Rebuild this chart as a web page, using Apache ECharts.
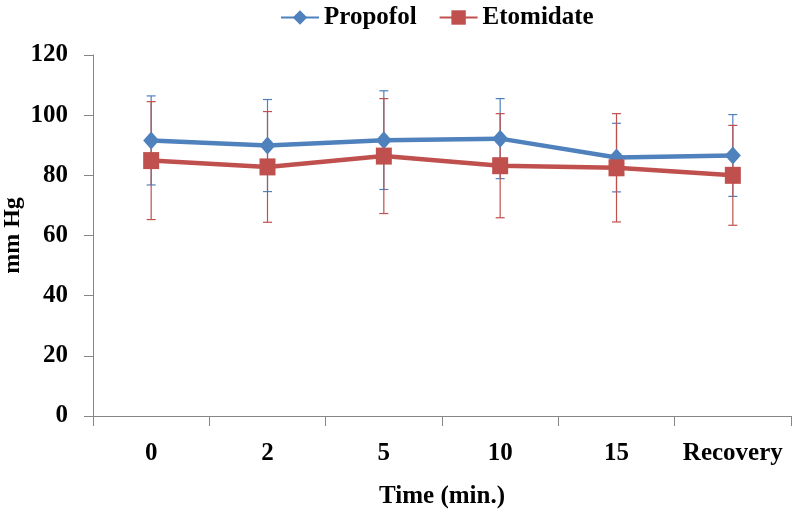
<!DOCTYPE html>
<html>
<head>
<meta charset="utf-8">
<script src="https://cdn.jsdelivr.net/npm/echarts@6/dist/echarts.min.js"></script>
<style>html,body{margin:0;padding:0;background:#fff;}#chart{width:792px;height:514px;}</style>
</head>
<body>
<div id="chart"></div>
<script>
const categories = ['0', '2', '5', '10', '15', 'Recovery'];
const propofolMean = [91.6, 89.9, 91.7, 92.2, 85.9, 86.6];
const propofolSD = [14.8, 15.3, 16.4, 13.3, 11.4, 13.6];
const etomidateMean = [84.9, 82.8, 86.4, 83.2, 82.5, 80.0];
const etomidateSD = [19.6, 18.4, 19.1, 17.3, 18.0, 16.6];
const yTicks = [0, 20, 40, 60, 80, 100, 120];

const BLUE = '#4F81BD';
const RED = '#C0504D';
const FONT = "'Liberation Serif', 'Times New Roman', serif";

function errData(mean, sd) {
  return mean.map((m, i) => [i, m - sd[i], m + sd[i]]);
}
function errorSeries(name, mean, sd, color) {
  return {
    type: 'custom',
    name: name + ' err',
    z: 1,
    silent: true,
    data: errData(mean, sd),
    encode: { x: 0, y: [1, 2] },
    renderItem: function (params, api) {
      const x = api.value(0);
      const lo = api.coord([x, api.value(1)]);
      const hi = api.coord([x, api.value(2)]);
      const cap = 4.5;
      const style = { stroke: color, lineWidth: 1.2 };
      return {
        type: 'group',
        children: [
          { type: 'line', shape: { x1: lo[0], y1: lo[1], x2: hi[0], y2: hi[1] }, style: style },
          { type: 'line', shape: { x1: lo[0] - cap, y1: lo[1], x2: lo[0] + cap, y2: lo[1] }, style: style },
          { type: 'line', shape: { x1: hi[0] - cap, y1: hi[1], x2: hi[0] + cap, y2: hi[1] }, style: style }
        ]
      };
    }
  };
}

const chart = echarts.init(document.getElementById('chart'));
chart.setOption({
  animation: false,
  backgroundColor: '#fff',
  grid: { left: 93, right: 1, top: 55, bottom: 98, containLabel: false, outerBoundsMode: 'none' },
  legend: {
    data: ['Propofol', 'Etomidate'],
    left: 275,
    top: 0,
    itemWidth: 38,
    itemHeight: 18,
    itemGap: 22,
    textStyle: { fontFamily: FONT, fontWeight: 'bold', fontSize: 25, color: '#000' }
  },
  xAxis: {
    type: 'category',
    data: categories,
    boundaryGap: true,
    name: 'Time (min.)',
    nameLocation: 'middle',
    nameGap: 68,
    nameMoveOverlap: false,
    nameTextStyle: { fontFamily: FONT, fontWeight: 'bold', fontSize: 25, color: '#000' },
    axisLine: { lineStyle: { color: '#868686', width: 1 } },
    axisTick: { show: true, interval: 0, length: 10, lineStyle: { color: '#868686' } },
    axisLabel: { interval: 0, margin: 25, fontFamily: FONT, fontWeight: 'bold', fontSize: 25, color: '#000' }
  },
  yAxis: {
    type: 'value',
    min: yTicks[0],
    max: yTicks[yTicks.length - 1],
    interval: 20,
    name: 'mm Hg',
    nameLocation: 'middle',
    nameGap: 68,
    nameMoveOverlap: false,
    nameTextStyle: { fontFamily: FONT, fontWeight: 'bold', fontSize: 24, color: '#000' },
    splitLine: { show: false },
    axisLine: { show: true, lineStyle: { color: '#868686', width: 1 } },
    axisTick: { show: true, length: 9, lineStyle: { color: '#868686' } },
    axisLabel: { margin: 25, fontFamily: FONT, fontWeight: 'bold', fontSize: 25, color: '#000' }
  },
  series: [
    errorSeries('Propofol', propofolMean, propofolSD, BLUE),
    errorSeries('Etomidate', etomidateMean, etomidateSD, RED),
    {
      name: 'Propofol',
      type: 'line',
      z: 3,
      data: propofolMean,
      symbol: 'diamond',
      symbolSize: [16, 18],
      lineStyle: { color: BLUE, width: 4.5 },
      itemStyle: { color: BLUE }
    },
    {
      name: 'Etomidate',
      type: 'line',
      z: 4,
      data: etomidateMean,
      symbol: 'rect',
      symbolSize: [16, 17],
      lineStyle: { color: RED, width: 4.5 },
      itemStyle: { color: RED }
    }
  ]
});
</script>
</body>
</html>
